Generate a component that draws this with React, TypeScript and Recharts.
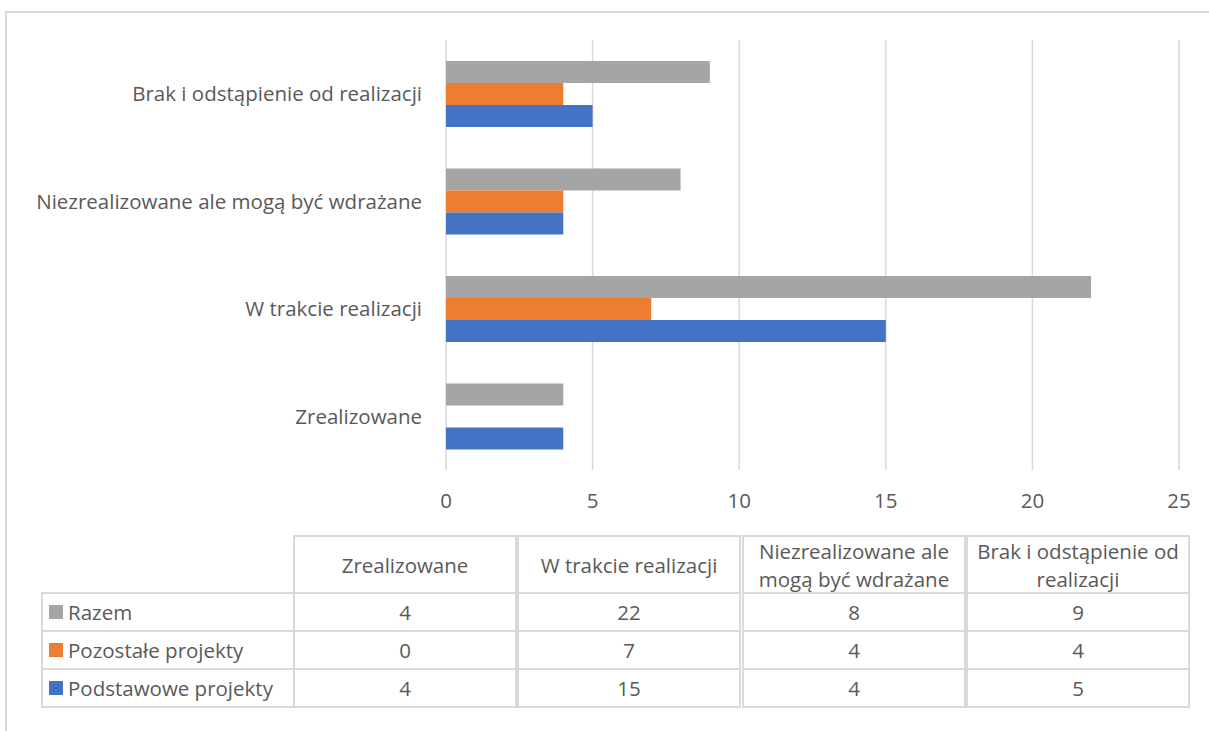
import React from 'react';
import { BarChart, Bar, XAxis, YAxis, CartesianGrid } from 'recharts';

const categories = [
  'Zrealizowane',
  'W trakcie realizacji',
  'Niezrealizowane ale mogą być wdrażane',
  'Brak i odstąpienie od realizacji',
];
const tableHeaders = [
  ['Zrealizowane'],
  ['W trakcie realizacji'],
  ['Niezrealizowane ale', 'mogą być wdrażane'],
  ['Brak i odstąpienie od', 'realizacji'],
];
const razem = [4, 22, 8, 9];
const pozostale = [0, 7, 4, 4];
const podstawowe = [4, 15, 4, 5];
const xTicks = [0, 5, 10, 15, 20, 25];

const series = [
  { key: 'razem', name: 'Razem', values: razem, color: '#A5A5A5' },
  { key: 'pozostale', name: 'Pozostałe projekty', values: pozostale, color: '#ED7D31' },
  { key: 'podstawowe', name: 'Podstawowe projekty', values: podstawowe, color: '#4472C4' },
];

const data = categories.map((c, i) => ({
  name: c,
  razem: razem[i],
  pozostale: pozostale[i],
  podstawowe: podstawowe[i],
}));

const FONT = '"Open Sans", "Noto Sans", sans-serif';
const TEXT = '#595959';
const LINE = '#D9D9D9';
const FS = 20.5;

export default function App() {
  const colLeft = [293, 517, 742, 966];
  const colW = 224;
  const headerTop = 535;
  const headerH = 59;
  const rowH = 38;
  return (
    <div style={{ position: 'absolute', left: 0, top: 0, width: 1209, height: 731, background: '#fff', fontFamily: FONT, overflow: 'hidden' }}>
      <div style={{ position: 'absolute', left: 5, top: 11, width: 1204, height: 720, borderTop: `2px solid ${LINE}`, borderLeft: `2px solid ${LINE}`, boxSizing: 'border-box' }} />
      <div style={{ position: 'absolute', left: 0, top: 0 }}>
        <BarChart
          width={1209}
          height={520}
          data={data}
          layout="vertical"
          margin={{ top: 40, right: 30, bottom: 20, left: 0 }}
          barGap={0}
        >
          <CartesianGrid horizontal={false} stroke={LINE} strokeWidth={1.5} />
          <XAxis
            type="number"
            domain={[0, 25]}
            ticks={xTicks}
            axisLine={false}
            tickLine={false}
            height={30}
            tickMargin={17}
            tick={{ fill: TEXT, fontSize: FS, fontFamily: FONT }}
            interval={0}
          />
          <YAxis
            type="category"
            dataKey="name"
            reversed
            width={446}
            axisLine={false}
            tickLine={false}
            tickMargin={18}
            interval={0}
            tick={{ fill: TEXT, fontSize: FS, fontFamily: FONT }}
          />
          {series.map((s) => (
            <Bar key={s.key} dataKey={s.key} name={s.name} fill={s.color} barSize={22} isAnimationActive={false} />
          ))}
        </BarChart>
      </div>
      {/* data table */}
      {tableHeaders.map((lines, i) => (
        <div key={'h' + i} style={{ position: 'absolute', left: colLeft[i], top: headerTop, width: colW, height: headerH, border: `2px solid ${LINE}`, boxSizing: 'border-box', display: 'flex', flexDirection: 'column', justifyContent: 'center', alignItems: 'center', color: TEXT, fontSize: FS, lineHeight: '28px', whiteSpace: 'nowrap' }}>
          {lines.map((l, j) => <div key={j}>{l}</div>)}
        </div>
      ))}
      {series.map((s, r) => (
        <React.Fragment key={s.key}>
          <div style={{ position: 'absolute', left: 41, top: headerTop + headerH + r * rowH - 2, width: colLeft[0] - 41 + 2, height: rowH + 2, border: `2px solid ${LINE}`, boxSizing: 'border-box', display: 'flex', alignItems: 'center', color: TEXT, fontSize: FS, whiteSpace: 'nowrap' }}>
            <span style={{ display: 'inline-block', width: 14, height: 14, background: s.color, marginLeft: 6, marginRight: 5 }} />
            {s.name}
          </div>
          {s.values.map((v, i) => (
            <div key={i} style={{ position: 'absolute', left: colLeft[i], top: headerTop + headerH + r * rowH - 2, width: colW, height: rowH + 2, border: `2px solid ${LINE}`, boxSizing: 'border-box', display: 'flex', alignItems: 'center', justifyContent: 'center', color: TEXT, fontSize: FS }}>
              {v}
            </div>
          ))}
        </React.Fragment>
      ))}
    </div>
  );
}
